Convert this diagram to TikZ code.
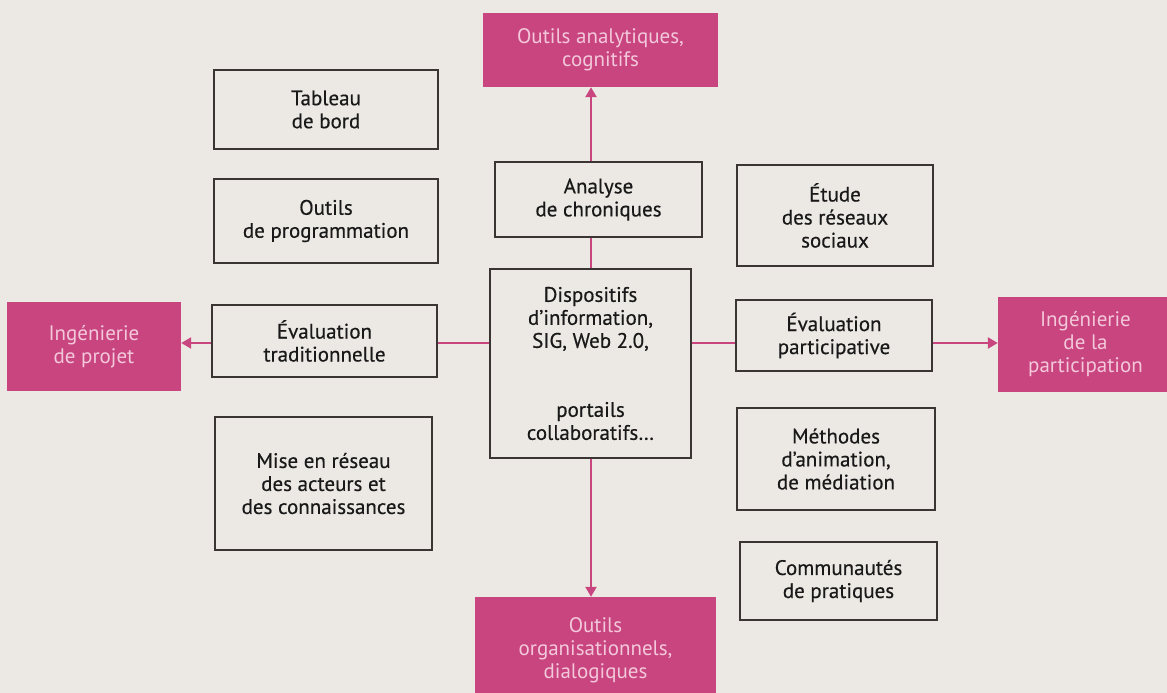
\documentclass[tikz,border=0pt]{standalone}
\usepackage{fontspec}
\setmainfont{PT Sans}
\newfontfamily\textboite[FakeBold=0.4]{PT Sans}
\usepackage{tikz}
\usetikzlibrary{arrows.meta}
\definecolor{fond}{HTML}{ECE9E4}
\definecolor{rose}{HTML}{C94580}
\definecolor{rosepale}{HTML}{F3C8DA}
\definecolor{trait}{HTML}{3A3433}

\begin{document}
\begin{tikzpicture}[x=1pt, y=-1pt,
  boite/.style={draw=trait, line width=1.8pt, fill=fond, align=center, inner sep=0pt,
    text=black!90, font=\textboite\fontsize{21}{23}\selectfont},
  pole/.style={fill=rose, text=rosepale, align=center, inner sep=0pt,
    font=\fontsize{21}{23}\selectfont},
  lien/.style={rose, line width=2.2pt},
  fleche/.style={lien, -{Triangle[length=10pt,width=11pt]}}]
% Fond
\useasboundingbox[fill=fond] (0,0) rectangle (1167,693);

% Poles
\node[pole, minimum width=235, minimum height=74] (haut) at (600.5,50) {Outils analytiques,\\cognitifs};
\node[pole, minimum width=174, minimum height=89] (gauche) at (94,346.5) {Ingénierie\\de projet};
\node[pole, minimum width=175, minimum height=95] (droite) at (1085.5,344.5) {Ingénierie\\de la\\participation};
\node[pole, minimum width=241, minimum height=106] (bas) at (595.5,650) {Outils\\organisationnels,\\dialogiques};

% Boites de gauche
\node[boite, minimum width=224, minimum height=79] (tableau) at (326,109.5) {Tableau\\de bord};
\node[boite, minimum width=224, minimum height=84] (programmation) at (326,221) {Outils\\de programmation};
\node[boite, minimum width=225, minimum height=72] (evaltrad) at (324.5,341) {Évaluation\\traditionnelle};
\node[boite, minimum width=217, minimum height=133] (reseau) at (323.5,483.5) {Mise en réseau\\des acteurs et\\des connaissances};

% Boites du centre
\node[boite, minimum width=207, minimum height=75] (analyse) at (598.5,199.5) {Analyse\\de chroniques};
\node[boite, minimum width=201, minimum height=189] (centre) at (590.5,363.5) {Dispositifs\\d’information,\\SIG, Web 2.0,\\[46pt]portails\\collaboratifs…};

% Boites de droite
\node[boite, minimum width=196, minimum height=101] (etude) at (835,215.5) {Étude\\des réseaux\\sociaux};
\node[boite, minimum width=196, minimum height=71] (evalpart) at (834,335.5) {Évaluation\\participative};
\node[boite, minimum width=198, minimum height=102] (methodes) at (836,459) {Méthodes\\d’animation,\\de médiation};
\node[boite, minimum width=197, minimum height=78] (commu) at (838.5,581) {Communautés\\de pratiques};

% Axes
\coordinate (axe) at (591,343);
\draw[lien] (centre.north -| axe) -- (analyse.south -| axe);
\draw[fleche] (analyse.north -| axe) -- (haut.south -| axe);
\draw[fleche] (centre.south -| axe) -- (bas.north -| axe);
\draw[lien] (centre.west |- axe) -- (evaltrad.east |- axe);
\draw[fleche] (evaltrad.west |- axe) -- (gauche.east |- axe);
\draw[lien] (centre.east |- axe) -- (evalpart.west |- axe);
\draw[fleche] (evalpart.east |- axe) -- (droite.west |- axe);
\end{tikzpicture}
\end{document}
